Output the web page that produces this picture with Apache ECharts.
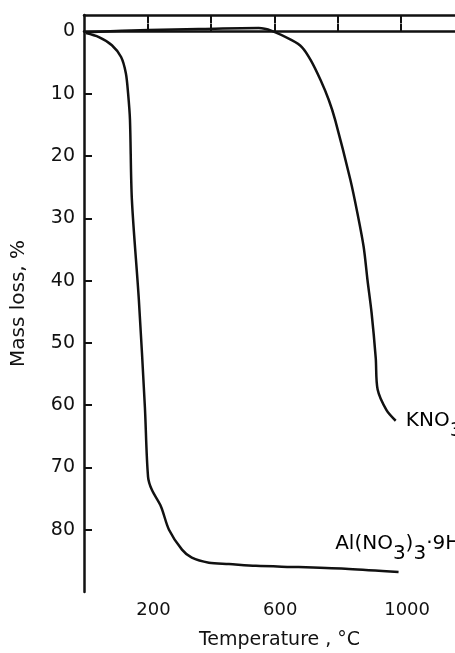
<!DOCTYPE html>
<html>
<head>
<meta charset="utf-8">
<script src="https://cdn.jsdelivr.net/npm/echarts@6/dist/echarts.min.js"></script>
<style>
  html, body { margin: 0; padding: 0; background: #fff; }
  #chart { width: 455px; height: 653px; }
</style>
</head>
<body>
<div id="chart"></div>
<script>
// Thermogravimetric curves: mass loss (%) versus temperature (°C)
const temperatureKNO3 = [9, 205, 362, 551, 592, 655, 687, 715, 746, 772, 792, 840, 862, 882, 894, 907, 920, 926, 954, 983];
const massLossKNO3 = [0.1, -0.25, -0.4, -0.55, -0.1, 1.4, 2.5, 4.6, 7.8, 11.0, 14.2, 23.8, 29.1, 34.6, 39.9, 45.2, 52.4, 57.5, 60.8, 62.5];

const temperatureAl = [6, 47, 88, 117, 132, 139, 145, 151, 173, 192, 202, 214, 243, 268, 309, 340, 394, 457, 542, 677, 835, 992];
const massLossAl = [0.25, 0.9, 2.2, 4.1, 6.7, 9.9, 14.2, 27.0, 43.1, 60.3, 71.5, 73.6, 76.3, 80.0, 83.2, 84.5, 85.3, 85.5, 85.8, 86.0, 86.3, 86.8];

const yTickValues = [0, 10, 20, 30, 40, 50, 60, 70, 80];
const xTickValues = [200, 400, 600, 800, 1000];
const xLabelValues = [200, 600, 1000];

// Curve labels: anchor point (temperature, mass loss) where each label starts
const curveLabels = [
  { rich: '{n|KNO}{s|3}', temp: 1015, mass: 62.7 },
  { rich: '{n|Al(NO}{s|3}{n|)}{s|3}{n|·9H}{s|2}{n|O}', temp: 792, mass: 82.5 }
];

const INK = '#111';
const FONT = 'DejaVu Sans';

function pairs(xs, ys) {
  return xs.map((x, i) => [x, ys[i]]);
}

const chart = echarts.init(document.getElementById('chart'), null, { renderer: 'canvas' });

const lineStyle = { color: INK, width: 2.5 };
const plain = (v) => String(v);

chart.setOption({
  animation: false,
  backgroundColor: '#fff',
  grid: { left: 84, right: 0, top: 15, bottom: 61, outerBoundsMode: 'none' },
  xAxis: [
    {
      type: 'value', position: 'bottom', min: 0, max: 1170,
      axisLine: { show: true, lineStyle: { color: INK, width: 2.5 } },
      axisTick: { show: true, inside: true, length: 8, customValues: xTickValues, lineStyle: { color: INK, width: 2 } },
      axisLabel: { customValues: xLabelValues, formatter: plain, color: INK, fontFamily: FONT, fontSize: 18, margin: 9, padding: [0, 0, 0, 12] },
      splitLine: { show: false },
      name: 'Temperature , °C', nameLocation: 'middle', nameGap: 39,
      nameTextStyle: { color: INK, fontFamily: FONT, fontSize: 19, padding: [0, 0, 0, 20] }
    },
    {
      type: 'value', position: 'top', min: 0, max: 1170,
      axisLine: { show: true, lineStyle: { color: INK, width: 2.5 } },
      axisTick: { show: true, inside: true, length: 8, customValues: xTickValues, lineStyle: { color: INK, width: 2 } },
      axisLabel: { show: false },
      splitLine: { show: false }
    }
  ],
  yAxis: {
    type: 'value', inverse: true, min: -2.65, max: 90,
    axisLine: { show: true, lineStyle: { color: INK, width: 2.5 } },
    axisTick: { show: true, inside: true, length: 8, customValues: yTickValues, lineStyle: { color: INK, width: 2 } },
    axisLabel: { customValues: yTickValues, formatter: plain, color: INK, fontFamily: FONT, fontSize: 19, margin: 9 },
    splitLine: { show: false },
    name: 'Mass loss, %', nameLocation: 'middle', nameGap: 55, nameRotate: 90,
    nameTextStyle: { color: INK, fontFamily: FONT, fontSize: 20, padding: [0, 0, 0, 0] }
  },
  series: [
    {
      name: 'KNO3', type: 'line', data: pairs(temperatureKNO3, massLossKNO3),
      showSymbol: false, smooth: 0.3, lineStyle
    },
    {
      name: 'Al(NO3)3·9H2O', type: 'line', data: pairs(temperatureAl, massLossAl),
      showSymbol: false, smooth: 0.3, lineStyle
    }
  ]
});

// Place the curve labels at their data positions
const richStyles = {
  n: { fontFamily: FONT, fontSize: 20, color: INK, lineHeight: 22, verticalAlign: 'top' },
  s: { fontFamily: FONT, fontSize: 20, color: INK, lineHeight: 22, verticalAlign: 'top', padding: [10, 0, 0, 0] }
};
chart.setOption({
  graphic: curveLabels.map((lab) => {
    const p = chart.convertToPixel({ xAxisIndex: 0, yAxisIndex: 0 }, [lab.temp, lab.mass]);
    return {
      type: 'text', x: p[0], y: p[1] - 11,
      style: { text: lab.rich, rich: richStyles, align: 'left', verticalAlign: 'top' }
    };
  })
});
</script>
</body>
</html>
